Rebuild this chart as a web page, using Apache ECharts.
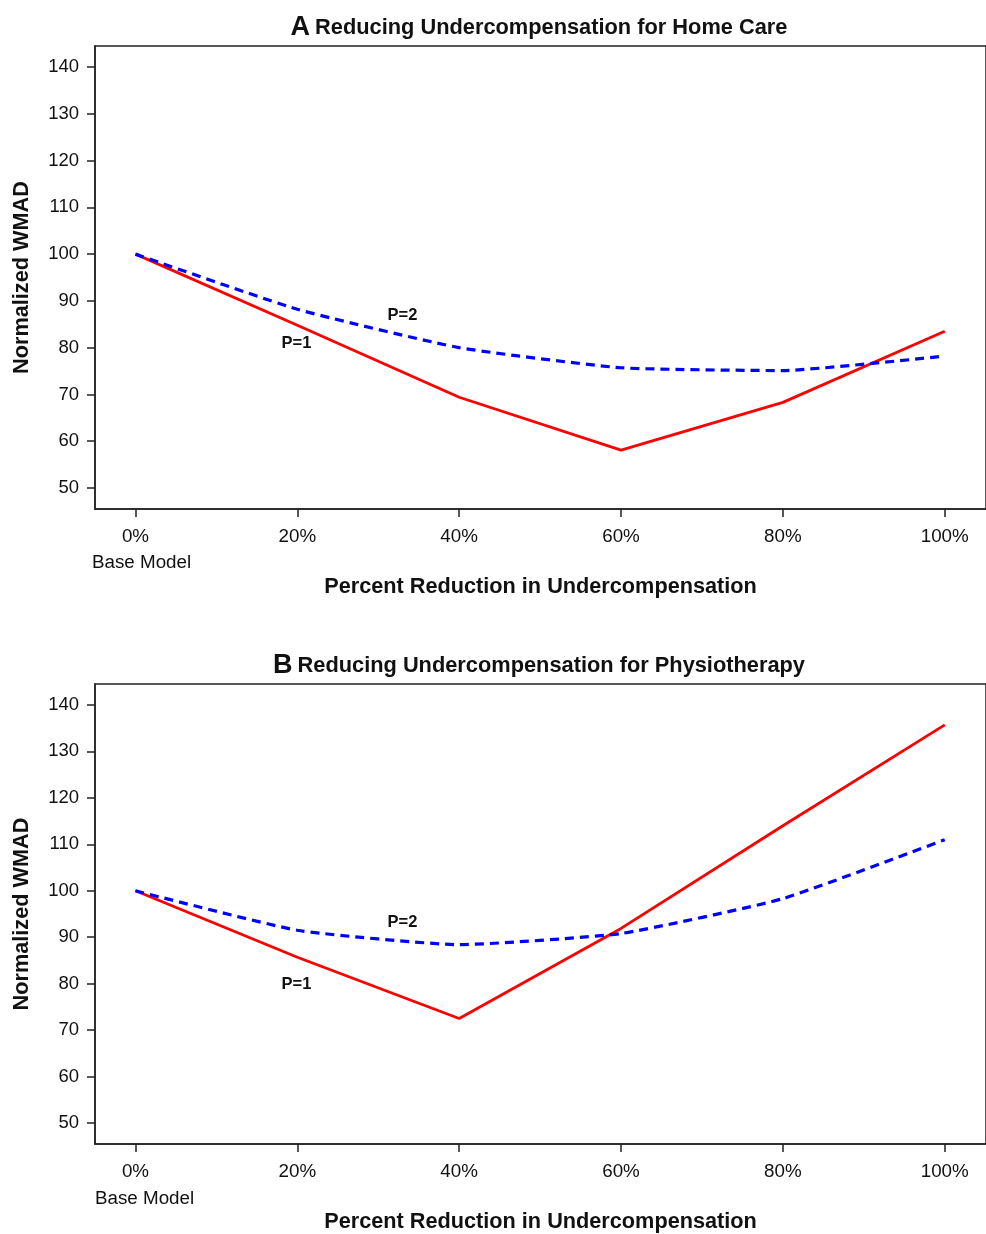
<!DOCTYPE html>
<html>
<head>
<meta charset="utf-8">
<script src="https://cdn.jsdelivr.net/npm/echarts@6/dist/echarts.min.js"></script>
<style>
html,body{margin:0;padding:0;background:#fff;}
#chart{width:986px;height:1234px;}
</style>
</head>
<body>
<div id="chart"></div>
<script>
// ---- data ----
const xValues = [0, 20, 40, 60, 80, 100];
const xTickLabels = ['0%', '20%', '40%', '60%', '80%', '100%'];
const yTicks = [50, 60, 70, 80, 90, 100, 110, 120, 130, 140];

const homeCareP1 = [100, 84.8, 69.4, 58.1, 68.3, 83.5];
const homeCareP2 = [100, 88.2, 80.0, 75.7, 75.1, 78.2];
const physioP1 = [100, 85.7, 72.5, 91.9, 114.0, 135.7];
const physioP2 = [100, 91.5, 88.4, 90.8, 98.3, 111.0];

const seriesNames = ['P=1', 'P=2'];
const panelTitles = ['Reducing Undercompensation for Home Care', 'Reducing Undercompensation for Physiotherapy'];
const panelLetters = ['A', 'B'];
const xAxisTitle = 'Percent Reduction in Undercompensation';
const yAxisTitle = 'Normalized WMAD';
const baseLabel = 'Base Model';

// annotation anchor points (data coordinates)
const homeCareLabels = [[33, 86.8, 'P=2'], [19.9, 80.8, 'P=1']];
const physioLabels = [[33, 93.2, 'P=2'], [19.9, 79.9, 'P=1']];

// ---- chart ----
const FONT = '"Liberation Sans", Arial, Helvetica, sans-serif';
const INK = '#111111';
const chart = echarts.init(document.getElementById('chart'), null, {renderer: 'canvas'});

const gridTops = [46, 684];
const gridHeights = [463, 462.5];

function mkXAxis(i) {
  return {
    type: 'value', gridIndex: i, min: -5, max: 105.1,
    name: xAxisTitle, nameLocation: 'middle', nameGap: 67,
    nameTextStyle: {fontFamily: FONT, fontSize: 21.7, fontWeight: 'bold', color: INK},
    axisLine: {show: true, onZero: false, lineStyle: {color: '#222', width: 1.5}},
    axisTick: {show: true, length: 8, customValues: xValues, lineStyle: {color: '#222', width: 1.5}},
    axisLabel: {
      show: true, margin: 18, customValues: xValues,
      fontFamily: FONT, fontSize: 18.8, color: INK,
      formatter: v => xTickLabels[xValues.indexOf(v)]
    },
    splitLine: {show: false}
  };
}
function mkYAxis(i) {
  return {
    type: 'value', gridIndex: i, min: 45.5, max: 144.5,
    name: yAxisTitle, nameLocation: 'middle', nameGap: 62,
    nameTextStyle: {fontFamily: FONT, fontSize: 21.7, fontWeight: 'bold', color: INK},
    axisLine: {show: true, onZero: false, lineStyle: {color: '#222', width: 1.5}},
    axisTick: {show: true, length: 8, customValues: yTicks, lineStyle: {color: '#222', width: 1.5}},
    axisLabel: {
      show: true, margin: 16, customValues: yTicks,
      fontFamily: FONT, fontSize: 18.5, color: INK
    },
    splitLine: {show: false}
  };
}
function pairs(vals) { return xValues.map((x, k) => [x, vals[k]]); }

function lineSeries(i, vals, isP2) {
  return {
    type: 'line', name: isP2 ? seriesNames[1] : seriesNames[0],
    xAxisIndex: i, yAxisIndex: i,
    data: pairs(vals), showSymbol: false, symbol: 'none',
    smooth: isP2 ? 0.15 : false,
    lineStyle: isP2 ? {color: '#0000ff', width: 3.2, type: [9, 6]} : {color: '#ff0000', width: 2.8},
    z: isP2 ? 3 : 2
  };
}
function labelSeries(i, lbls) {
  return {
    type: 'scatter', xAxisIndex: i, yAxisIndex: i, symbolSize: 0,
    itemStyle: {opacity: 1},
    data: lbls.map(l => ({value: [l[0], l[1]], name: l[2]})),
    label: {show: true, position: 'inside', formatter: p => p.name,
      fontFamily: FONT, fontSize: 16.5, fontWeight: 'bold', color: INK},
    silent: true
  };
}

const option = {
  animation: false,
  backgroundColor: '#ffffff',
  title: [0, 1].map(i => ({
    text: '{a|' + panelLetters[i] + '} {b|' + panelTitles[i] + '}',
    left: 534, top: gridTops[i] - 37, textAlign: 'center',
    textStyle: {rich: {
      a: {fontFamily: FONT, fontSize: 27, fontWeight: 'bold', color: INK},
      b: {fontFamily: FONT, fontSize: 21.8, fontWeight: 'bold', color: INK}
    }}
  })),
  grid: [0, 1].map(i => ({
    left: 95, top: gridTops[i], width: 893, height: gridHeights[i],
    show: true, borderColor: '#222', borderWidth: 1.5, backgroundColor: 'transparent'
  })),
  xAxis: [mkXAxis(0), mkXAxis(1)],
  yAxis: [mkYAxis(0), mkYAxis(1)],
  series: [
    lineSeries(0, homeCareP1, false), lineSeries(0, homeCareP2, true), labelSeries(0, homeCareLabels),
    lineSeries(1, physioP1, false), lineSeries(1, physioP2, true), labelSeries(1, physioLabels)
  ],
  graphic: [
    {type: 'text', left: 92, top: 553, style: {text: baseLabel, font: '18.8px ' + FONT, fill: INK}},
    {type: 'text', left: 95, top: 1189, style: {text: baseLabel, font: '18.8px ' + FONT, fill: INK}}
  ]
};
chart.setOption(option);
</script>
</body>
</html>
